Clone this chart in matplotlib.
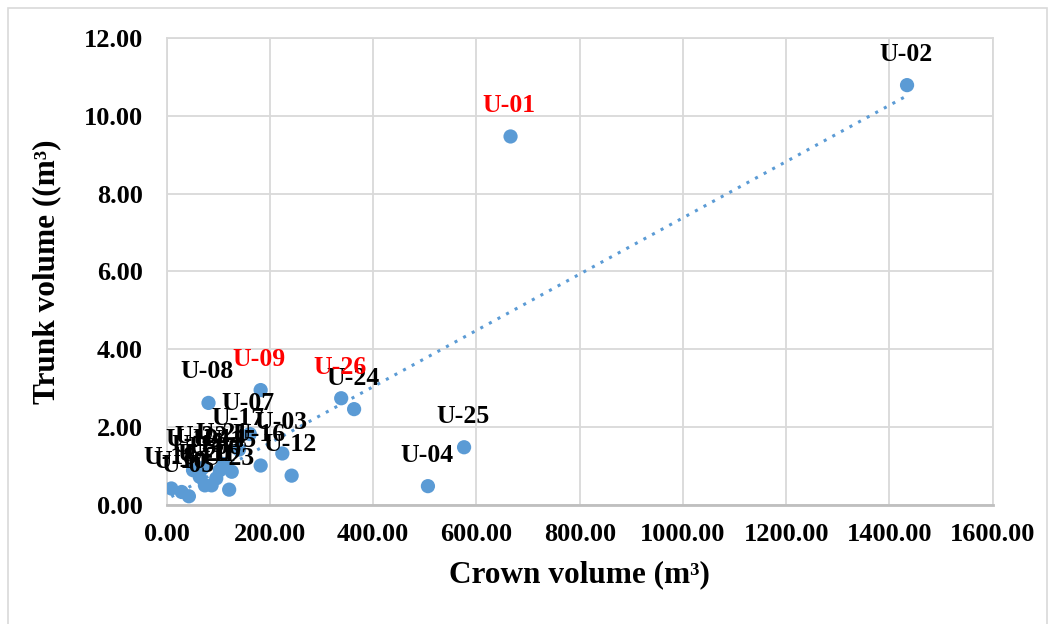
import numpy as np
import matplotlib
matplotlib.use("Agg")
import matplotlib.pyplot as plt
from matplotlib.patches import Rectangle

# ---------- dados ----------
labels = ["U-01", "U-02", "U-03", "U-04", "U-05", "U-06", "U-07", "U-08", "U-09",
          "U-10", "U-11", "U-12", "U-13", "U-14", "U-15", "U-16", "U-17", "U-18",
          "U-19", "U-20", "U-21", "U-22", "U-23", "U-24", "U-25", "U-26"]
crown = [666, 1434, 224, 506, 43, 96, 161, 81, 182,
         29, 87, 242, 64, 103, 126, 182, 140, 9,
         51, 74, 110, 70, 121, 363, 576, 338]
trunk = [9.47, 10.79, 1.32, 0.48, 0.22, 0.68, 1.82, 2.62, 2.95,
         0.33, 0.50, 0.75, 0.72, 0.89, 0.85, 1.01, 1.42, 0.42,
         0.89, 0.50, 1.05, 0.95, 0.39, 2.46, 1.48, 2.74]
red_labels = ["U-01", "U-09", "U-26"]

x_ticks = [0, 200, 400, 600, 800, 1000, 1200, 1400, 1600]
y_ticks = [0, 2, 4, 6, 8, 10, 12]

BLUE = "#5B9BD5"
GRID = "#D9D9D9"
FONT = "Liberation Serif"

plt.rcParams['font.family'] = [FONT, 'DejaVu Serif']
plt.rcParams['font.weight'] = 'bold'

fig = plt.figure(figsize=(10.55, 6.24), dpi=100)
ax = fig.add_axes([0.158, 0.191, 0.783, 0.748])

x = np.array(crown, dtype=float)
y = np.array(trunk, dtype=float)

# linha de tendência linear (pontilhada)
m, b = np.polyfit(x, y, 1)
xt = np.array([x.min(), x.max()])
ax.plot(xt, m * xt + b, linestyle=(0, (1, 2.2)), color=BLUE, lw=2.2, zorder=2)

ax.scatter(x, y, s=105, color=BLUE, edgecolors='none', zorder=3)

# rótulos acima dos pontos
for lab, xi, yi in zip(labels, crown, trunk):
    col = 'red' if lab in red_labels else 'black'
    ax.annotate(lab, (xi, yi), xytext=(-1, 14), textcoords='offset points',
                ha='center', va='bottom', fontsize=18.5, fontweight='bold',
                color=col, zorder=4)

ax.set_xlim(0, 1600)
ax.set_ylim(0, 12)
ax.set_xticks(x_ticks)
ax.set_yticks(y_ticks)
ax.set_xticklabels([f"{v:.2f}" for v in x_ticks])
ax.set_yticklabels([f"{v:.2f}" for v in y_ticks])
ax.tick_params(axis='both', length=0, labelsize=19)
ax.tick_params(axis='x', pad=13)
ax.tick_params(axis='y', pad=17)
ax.grid(True, color=GRID, lw=1.3)
ax.set_axisbelow(True)
for s in ax.spines.values():
    s.set_color(GRID)
    s.set_linewidth(1.3)
ax.spines['bottom'].set_color('#BFBFBF')
ax.spines['bottom'].set_linewidth(2)

ax.set_xlabel("Crown volume (m\u00b3)", fontsize=22.5, fontweight='bold', labelpad=10)
ax.set_ylabel("Trunk volume ((m\u00b3)", fontsize=22.5, fontweight='bold', labelpad=16)

# borda do gráfico
fig.patches.append(Rectangle((8 / 1055, -0.05), 1039 / 1055, 1.05 - 8 / 624,
                             transform=fig.transFigure, fill=False,
                             edgecolor=GRID, lw=1.2))

fig.savefig("out.png", dpi=100)
